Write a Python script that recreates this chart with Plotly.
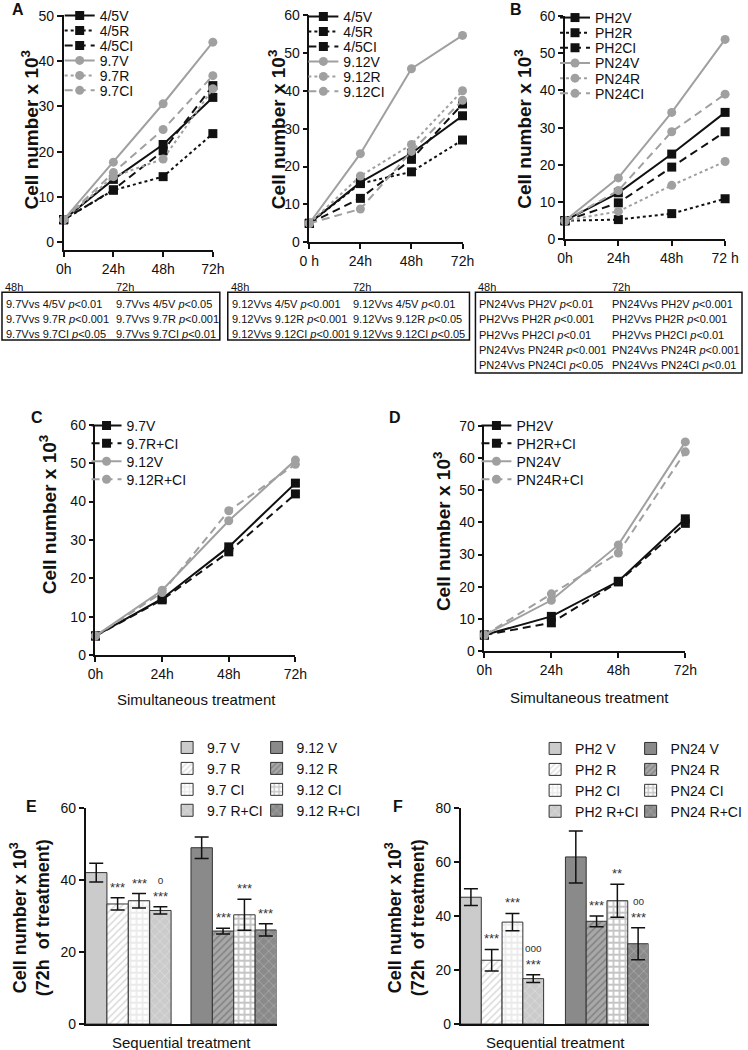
import plotly.graph_objects as go

W, H = 748, 1050
FONT = "Liberation Sans, Arial, sans-serif"
INK = "#111111"
GRAY = "#a0a0a0"

# ---------------- data ----------------
hours = [0, 24, 48, 72]
ticks_a1 = ["0h", "24h", "48h", "72h"]
ticks_a2 = ["0 h", "24h", "48h", "72h"]
ticks_b = ["0h", "24h", "48h", "72 h"]
ticks_cd = ["0h", "24h", "48h", "72h"]

# Panel A (left)
a1_45V = [5.0, 13.9, 21.6, 32.0]
a1_45R = [5.0, 11.5, 14.5, 24.0]
a1_45CI = [5.0, 11.6, 20.2, 34.6]
a1_97V = [5.0, 17.7, 30.6, 44.2]
a1_97R = [5.0, 14.5, 18.4, 33.9]
a1_97CI = [5.0, 15.4, 24.9, 36.8]

# Panel A (right)
a2_45V = [5.0, 15.8, 23.5, 33.4]
a2_45R = [5.0, 15.5, 18.6, 27.0]
a2_45CI = [5.0, 11.6, 21.9, 36.5]
a2_912V = [5.0, 23.4, 45.8, 54.6]
a2_912R = [5.0, 17.5, 25.8, 40.0]
a2_912CI = [5.0, 8.8, 24.0, 37.5]

# Panel B
b_PH2V = [5.0, 12.5, 22.9, 34.1]
b_PH2R = [5.0, 5.3, 6.9, 10.9]
b_PH2CI = [5.0, 9.8, 19.4, 28.9]
b_PN24V = [5.0, 16.5, 34.1, 53.7]
b_PN24R = [5.0, 7.5, 14.5, 20.9]
b_PN24CI = [5.0, 13.1, 28.9, 39.0]

# Panel C
c_97V = [5.0, 14.7, 28.2, 44.8]
c_97RCI = [5.0, 14.4, 26.9, 42.0]
c_912V = [5.0, 16.9, 35.0, 50.8]
c_912RCI = [5.0, 16.3, 37.6, 49.7]

# Panel D
d_PH2V = [5.0, 10.8, 21.7, 41.1]
d_PH2RCI = [5.0, 8.8, 21.5, 39.7]
d_PN24V = [5.0, 15.8, 33.0, 65.0]
d_PN24RCI = [5.0, 17.8, 30.5, 61.9]

# Panel E
e_labels = ["9.7 V", "9.7 R", "9.7 CI", "9.7 R+CI", "9.12 V", "9.12 R", "9.12 CI", "9.12 R+CI"]
e_means = [42.0, 33.3, 34.2, 31.5, 48.9, 25.8, 30.3, 26.1]
e_errs = [2.6, 1.7, 2.0, 1.0, 3.0, 0.8, 4.3, 1.7]
e_marks = ["", "***", "***", "o|***", "", "***", "***", "***"]

# Panel F
f_labels = ["PH2 V", "PH2 R", "PH2 CI", "PH2 R+CI", "PN24 V", "PN24 R", "PN24 CI", "PN24 R+CI"]
f_means = [46.9, 23.6, 37.7, 16.8, 61.8, 38.0, 45.6, 29.7]
f_errs = [3.1, 4.0, 3.2, 1.4, 9.6, 2.0, 6.1, 5.9]
f_marks = ["", "***", "***", "ooo|***", "", "***", "**", "oo|***"]

# Statistics tables
t1_48 = ["9.7Vvs 4/5V <i>p</i>&lt;0.01", "9.7Vvs 9.7R <i>p</i>&lt;0.001", "9.7Vvs 9.7CI <i>p</i>&lt;0.05"]
t1_72 = ["9.7Vvs 4/5V <i>p</i>&lt;0.05", "9.7Vvs 9.7R <i>p</i>&lt;0.001", "9.7Vvs 9.7CI <i>p</i>&lt;0.01"]
t2_48 = ["9.12Vvs 4/5V <i>p</i>&lt;0.001", "9.12Vvs 9.12R <i>p</i>&lt;0.001", "9.12Vvs 9.12CI <i>p</i>&lt;0.001"]
t2_72 = ["9.12Vvs 4/5V <i>p</i>&lt;0.01", "9.12Vvs 9.12R <i>p</i>&lt;0.05", "9.12Vvs 9.12CI <i>p</i>&lt;0.05"]
t3_48 = ["PN24Vvs PH2V <i>p</i>&lt;0.01", "PH2Vvs PH2R <i>p</i>&lt;0.001", "PH2Vvs PH2CI <i>p</i>&lt;0.01",
         "PN24Vvs PN24R <i>p</i>&lt;0.001", "PN24Vvs PN24CI <i>p</i>&lt;0.05"]
t3_72 = ["PN24Vvs PH2V <i>p</i>&lt;0.001", "PH2Vvs PH2R <i>p</i>&lt;0.001", "PH2Vvs PH2CI <i>p</i>&lt;0.01",
         "PN24Vvs PN24R <i>p</i>&lt;0.001", "PN24Vvs PN24CI <i>p</i>&lt;0.01"]

# ---------------- figure ----------------
fig = go.Figure()
annotations = []
shapes = []
legends = {}


def sx(n):
    return "x" if n == 1 else f"x{n}"


def sy(n):
    return "y" if n == 1 else f"y{n}"


AX = dict(showline=True, linecolor=INK, linewidth=1.5, ticks="outside", ticklen=5,
          tickwidth=1.5, tickcolor=INK, showgrid=False, zeroline=False, automargin=False,
          tickfont=dict(family=FONT, size=14, color=INK))


def set_axes(n, x0, x1, ytop, ybot, xrange, yrange, yticks, xticks=None, xtext=None):
    xa = "xaxis" if n == 1 else f"xaxis{n}"
    ya = "yaxis" if n == 1 else f"yaxis{n}"
    xd = dict(domain=[x0 / W, x1 / W], range=xrange, anchor=sy(n), **AX)
    if xticks is None:
        xd.update(showticklabels=False, ticks="")
    else:
        xd.update(tickvals=xticks, ticktext=xtext)
    yd = dict(domain=[1 - ybot / H, 1 - ytop / H], range=yrange, anchor=sx(n), tickvals=yticks, **AX)
    fig.update_layout(**{xa: xd, ya: yd})


def new_legend(xp, yp, size):
    k = len(legends) + 1
    key = "legend" if k == 1 else f"legend{k}"
    legends[key] = dict(x=xp / W, y=1 - yp / H, xanchor="left", yanchor="middle",
                        bgcolor="rgba(0,0,0,0)", borderwidth=0, itemwidth=30,
                        font=dict(family=FONT, size=size, color=INK), tracegroupgap=0)
    return key


def text(xp, yp, s, size, bold=False, angle=0, xanchor="center", yanchor="middle"):
    annotations.append(dict(x=xp / W, y=1 - yp / H, xref="paper", yref="paper", text=(f"<b>{s}</b>" if bold else s),
                            showarrow=False, textangle=angle, xanchor=xanchor, yanchor=yanchor,
                            font=dict(family=FONT, size=size, color=INK)))


DASH = {"V": "solid", "R": "dot", "CI": "8px,5px"}


def line_panel(n, series, leg_x, leg_y0, leg_dy, size=14):
    for i, (name, vals, dark, kind) in enumerate(series):
        color = INK if dark else GRAY
        key = new_legend(leg_x, leg_y0 + i * leg_dy, size)
        fig.add_trace(go.Scatter(
            x=hours, y=vals, name=name, mode="lines+markers",
            line=dict(color=color, width=2, dash=DASH[kind]),
            marker=dict(symbol="square" if dark else "circle", size=9, color=color),
            xaxis=sx(n), yaxis=sy(n), legend=key, cliponaxis=False, showlegend=True))


# Panel A left
set_axes(1, 64, 214, 12, 248, [0, 72], [-1.76, 50.2], [0, 10, 20, 30, 40, 50], hours, ticks_a1)
line_panel(1, [("4/5V", a1_45V, True, "V"), ("4/5R", a1_45R, True, "R"), ("4/5CI", a1_45CI, True, "CI"),
               ("9.7V", a1_97V, False, "V"), ("9.7R", a1_97R, False, "R"), ("9.7CI", a1_97CI, False, "CI")],
           60, 13, 15)
# Panel A right
set_axes(2, 311, 465, 12, 240, [0, 72], [0, 60], [0, 10, 20, 30, 40, 50, 60], hours, ticks_a2)
line_panel(2, [("4/5V", a2_45V, True, "V"), ("4/5R", a2_45R, True, "R"), ("4/5CI", a2_45CI, True, "CI"),
               ("9.12V", a2_912V, False, "V"), ("9.12R", a2_912R, False, "R"), ("9.12CI", a2_912CI, False, "CI")],
           305, 14, 15)
# Panel B
set_axes(3, 568, 729, 13, 237, [0, 72], [0, 60], [0, 10, 20, 30, 40, 50, 60], hours, ticks_b)
line_panel(3, [("PH2V", b_PH2V, True, "V"), ("PH2R", b_PH2R, True, "R"), ("PH2CI", b_PH2CI, True, "CI"),
               ("PN24V", b_PN24V, False, "V"), ("PN24R", b_PN24R, False, "R"), ("PN24CI", b_PN24CI, False, "CI")],
           558, 15, 15.2)
# Panel C
set_axes(4, 96, 297, 423, 654, [0, 72], [0, 60], [0, 10, 20, 30, 40, 50, 60], hours, ticks_cd)
line_panel(4, [("9.7V", c_97V, True, "V"), ("9.7R+CI", c_97RCI, True, "CI"),
               ("9.12V", c_912V, False, "V"), ("9.12R+CI", c_912RCI, False, "CI")],
           87, 424, 18)
# Panel D
set_axes(5, 487, 689, 424, 650, [0, 72], [0, 70], [0, 10, 20, 30, 40, 50, 60, 70], hours, ticks_cd)
line_panel(5, [("PH2V", d_PH2V, True, "V"), ("PH2R+CI", d_PH2RCI, True, "CI"),
               ("PN24V", d_PN24V, False, "V"), ("PN24R+CI", d_PN24RCI, False, "CI")],
           479, 424, 18)

# Bar panels
LIGHT = "#cbcbcb"
DARK = "#8a8a8a"


def bar_style(i):
    grp_dark = i >= 4
    base = DARK if grp_dark else LIGHT
    kind = i % 4
    if kind == 0:
        return dict(color=base)
    if kind == 1:
        return dict(color="white", pattern=dict(shape="/", fgcolor=("#5a5a5a" if grp_dark else "#b5b5b5"),
                                                bgcolor=("#a8a8a8" if grp_dark else "white"), size=5, solidity=0.3))
    if kind == 2:
        return dict(color="white", pattern=dict(shape="+", fgcolor=("#8a8a8a" if grp_dark else "#d6d6d6"),
                                                bgcolor="white", size=6, solidity=0.5))
    return dict(color=base, pattern=dict(shape="x", fgcolor=("#c0c0c0" if grp_dark else "#e8e8e8"),
                                         bgcolor=base, size=7, solidity=0.25))


def bar_panel(n, labels, means, errs, marks, gap, leg_cols, leg_y0, leg_dy):
    centers = [i + 0.5 + (gap if i >= 4 else 0) for i in range(len(labels))]
    for i, lab in enumerate(labels):
        st = bar_style(i)
        key = new_legend(leg_cols[i // 4], leg_y0 + (i % 4) * leg_dy, 14)
        fig.add_trace(go.Bar(
            x=[centers[i]], y=[means[i]], width=[1], name=lab,
            marker=dict(line=dict(color="#333333", width=1), **st),
            error_y=dict(type="data", array=[errs[i]], color=INK, thickness=1.5, width=7),
            xaxis=sx(n), yaxis=sy(n), legend=key, showlegend=True))
        if marks[i]:
            parts = marks[i].split("|")
            if len(parts) == 2:
                s = f"<span style='font-size:10px'>{parts[0]}</span><br>{parts[1]}"
            else:
                s = parts[0]
            annotations.append(dict(x=centers[i], y=means[i] + errs[i], xref=sx(n), yref=sy(n), text=s,
                                    showarrow=False, yanchor="bottom", yshift=1,
                                    font=dict(family=FONT, size=13, color="#333333")))
    return centers


set_axes(6, 86, 278, 807, 1024, [0, 8.93], [0, 60], [0, 20, 40, 60])
bar_panel(6, e_labels, e_means, e_errs, e_marks, 0.93, [168, 258], 747, 21)
set_axes(7, 463, 652, 807, 1024, [0, 9.05], [0, 80], [0, 20, 40, 60, 80])
bar_panel(7, f_labels, f_means, f_errs, f_marks, 1.05, [538, 634], 748, 21)

fig.update_layout(barmode="overlay")

# axis titles
YT = "Cell number x 10<sup>3</sup>"
text(30, 127, YT, 19, bold=True, angle=-90)
text(278, 127, YT, 19, bold=True, angle=-90)
text(525, 127, YT, 19, bold=True, angle=-90)
text(48, 513, YT, 19, bold=True, angle=-90)
text(445, 530, YT, 19, bold=True, angle=-90)
text(31, 917, YT + "<br>(72h  of treatment)", 18, bold=True, angle=-90)
text(408, 917, YT + "<br>(72h  of treatment)", 18, bold=True, angle=-90)
text(198, 698, "Simultaneous treatment", 15)
text(593, 696, "Simultaneous treatment", 15)
text(182, 1042, "Sequential treatment", 15)
text(558, 1042, "Sequential treatment", 15)

# panel letters
for lab, xp, yp in [("A", 18, 7), ("B", 519, 7), ("C", 37, 416), ("D", 397, 416), ("E", 32, 806), ("F", 400, 806)]:
    text(xp, yp, lab, 16, bold=True)


# stats tables
def table(x0, x1, ytop, ybot, col2x, rows48, rows72, row_y0, dy):
    shapes.append(dict(type="rect", xref="paper", yref="paper", x0=x0 / W, x1=x1 / W,
                       y0=1 - ybot / H, y1=1 - ytop / H, line=dict(color=INK, width=1.5)))
    text(x0 + 1, ytop - 5, "48h", 11, xanchor="left")
    text(col2x, ytop - 5, "72h", 11, xanchor="left")
    for i, (a, b) in enumerate(zip(rows48, rows72)):
        text(x0 + 2, row_y0 + i * dy, a, 11, xanchor="left")
        text(col2x, row_y0 + i * dy, b, 11, xanchor="left")


table(2, 221, 290, 338, 115, t1_48, t1_72, 302, 15)
table(229, 472, 290, 338, 353, t2_48, t2_72, 302, 15)
table(478, 746, 290, 371, 613, t3_48, t3_72, 302, 15.3)

fig.update_layout(width=W, height=H, autosize=False, margin=dict(l=0, r=0, t=0, b=0),
                  plot_bgcolor="white", paper_bgcolor="white",
                  annotations=annotations, shapes=shapes, **legends)

fig.write_html("out.html", config={"displayModeBar": False},
               post_script="document.body.style.margin='0px';document.body.style.padding='0px';")
